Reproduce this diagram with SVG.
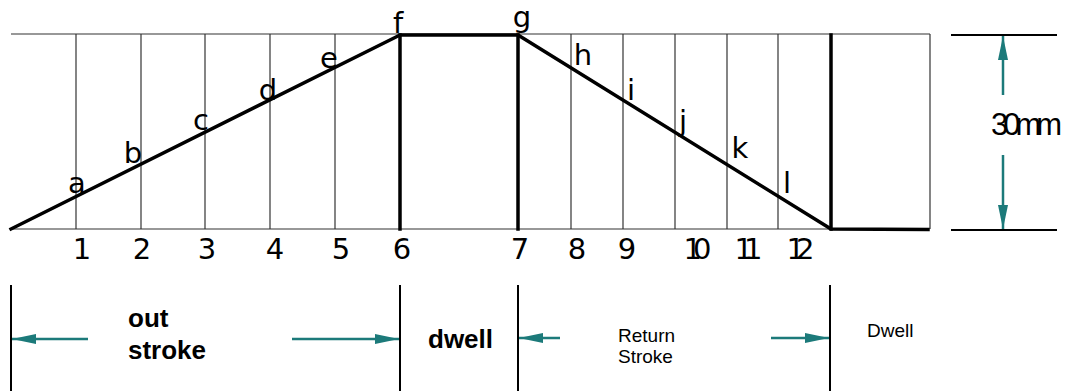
<svg xmlns="http://www.w3.org/2000/svg" width="1065" height="391" viewBox="0 0 1065 391">
<style>
.thin{stroke:#333;stroke-width:1.2;fill:none}
.thick{stroke:#000;stroke-width:3.5;fill:none;stroke-linecap:square}
.dim{stroke:#000;stroke-width:2;fill:none}
.sep{stroke:#000;stroke-width:2;fill:none}
.arr{stroke:#1c7a7a;stroke-width:2.5;fill:none}
.lbl{font-family:"DejaVu Sans",sans-serif;font-size:29px;fill:#000;text-anchor:middle}
.num{font-family:"DejaVu Sans",sans-serif;font-size:29px;fill:#000;text-anchor:middle}
.tight{letter-spacing:-9px}
.bold{font-family:"Liberation Sans",Arial,sans-serif;font-size:26px;font-weight:bold;fill:#000}
.reg{font-family:"Liberation Sans",Arial,sans-serif;font-size:19px;fill:#000}
</style>
<defs>
<marker id="ah" markerUnits="userSpaceOnUse" markerWidth="26" markerHeight="12" refX="24" refY="5" orient="auto">
<path d="M0,0 L24,5 L0,10 Z" fill="#1c7a7a"/>
</marker>
</defs>
<rect width="1065" height="391" fill="#fff"/>
<g id="grid">
<line class="thin" x1="11" y1="34" x2="930" y2="34"/>
<line class="thin" x1="11" y1="229" x2="831" y2="229"/>
<line class="thin" x1="930" y1="34" x2="930" y2="229"/>
<line class="thin" x1="76" y1="34" x2="76" y2="229"/>
<line class="thin" x1="141" y1="34" x2="141" y2="229"/>
<line class="thin" x1="205" y1="34" x2="205" y2="229"/>
<line class="thin" x1="270" y1="34" x2="270" y2="229"/>
<line class="thin" x1="335" y1="34" x2="335" y2="229"/>
<line class="thin" x1="571" y1="34" x2="571" y2="229"/>
<line class="thin" x1="623" y1="34" x2="623" y2="229"/>
<line class="thin" x1="675" y1="34" x2="675" y2="229"/>
<line class="thin" x1="727" y1="34" x2="727" y2="229"/>
<line class="thin" x1="778" y1="34" x2="778" y2="229"/>
</g>
<g id="profile">
<line class="thick" x1="400" y1="35" x2="400" y2="229"/>
<line class="thick" x1="518" y1="35" x2="518" y2="229"/>
<line class="thick" x1="831" y1="35" x2="831" y2="229"/>
<polyline class="thick" stroke-linejoin="round" points="11,229 400,35 518,35 831,229 928,229.5"/>
</g>
<g id="point-labels">
<text class="lbl" x="77" y="193">a</text>
<text class="lbl" x="133" y="163">b</text>
<text class="lbl" x="201" y="130">c</text>
<text class="lbl" x="268" y="100">d</text>
<text class="lbl" x="329" y="68">e</text>
<text class="lbl" x="398" y="33">f</text>
<text class="lbl" x="522" y="27">g</text>
<text class="lbl" x="583" y="65">h</text>
<text class="lbl" x="631" y="100">i</text>
<text class="lbl" x="683" y="131">j</text>
<text class="lbl" x="740" y="158">k</text>
<text class="lbl" x="787" y="193">l</text>
</g>
<g id="division-numbers">
<text class="num" x="82" y="259">1</text>
<text class="num" x="142" y="259">2</text>
<text class="num" x="207" y="259">3</text>
<text class="num" x="275" y="259">4</text>
<text class="num" x="341" y="259">5</text>
<text class="num" x="402" y="259">6</text>
<text class="num" x="520" y="259">7</text>
<text class="num" x="577" y="259">8</text>
<text class="num" x="627" y="259">9</text>
<text class="num tight" x="693" y="259">10</text>
<text class="num tight" x="744" y="259">11</text>
<text class="num tight" x="796" y="259">12</text>
</g>
<g id="dimension">
<line class="dim" x1="951" y1="35" x2="1057" y2="35"/>
<line class="dim" x1="951" y1="230" x2="1057" y2="230"/>
<text x="1024" y="135" font-family="Liberation Sans, Arial, sans-serif" font-size="31" letter-spacing="-5" text-anchor="middle" fill="#000">30mm</text>
</g>
<g id="phase-bounds">
<line class="sep" x1="11" y1="285" x2="11" y2="391"/>
<line class="sep" x1="400" y1="285" x2="400" y2="391"/>
<line class="sep" x1="518" y1="285" x2="518" y2="391"/>
<line class="sep" x1="830" y1="285" x2="830" y2="391"/>
</g>
<g id="phase-labels">
<text class="bold" x="128" y="327">out</text>
<text class="bold" x="128" y="359">stroke</text>
<text class="bold" x="428" y="348">dwell</text>
<text class="reg" x="618" y="342">Return</text>
<text class="reg" x="618" y="363">Stroke</text>
<text class="reg" x="867" y="337">Dwell</text>
</g>
<g id="connectors">
<line class="arr" x1="1003" y1="95" x2="1003" y2="36" marker-end="url(#ah)"/>
<line class="arr" x1="1003" y1="155" x2="1003" y2="229" marker-end="url(#ah)"/>
<line class="arr" x1="88" y1="339" x2="12" y2="339" marker-end="url(#ah)"/>
<line class="arr" x1="292" y1="339" x2="399" y2="339" marker-end="url(#ah)"/>
<line class="arr" x1="560" y1="338" x2="519" y2="338" marker-end="url(#ah)"/>
<line class="arr" x1="771" y1="338" x2="829" y2="338" marker-end="url(#ah)"/>
</g>
</svg>
